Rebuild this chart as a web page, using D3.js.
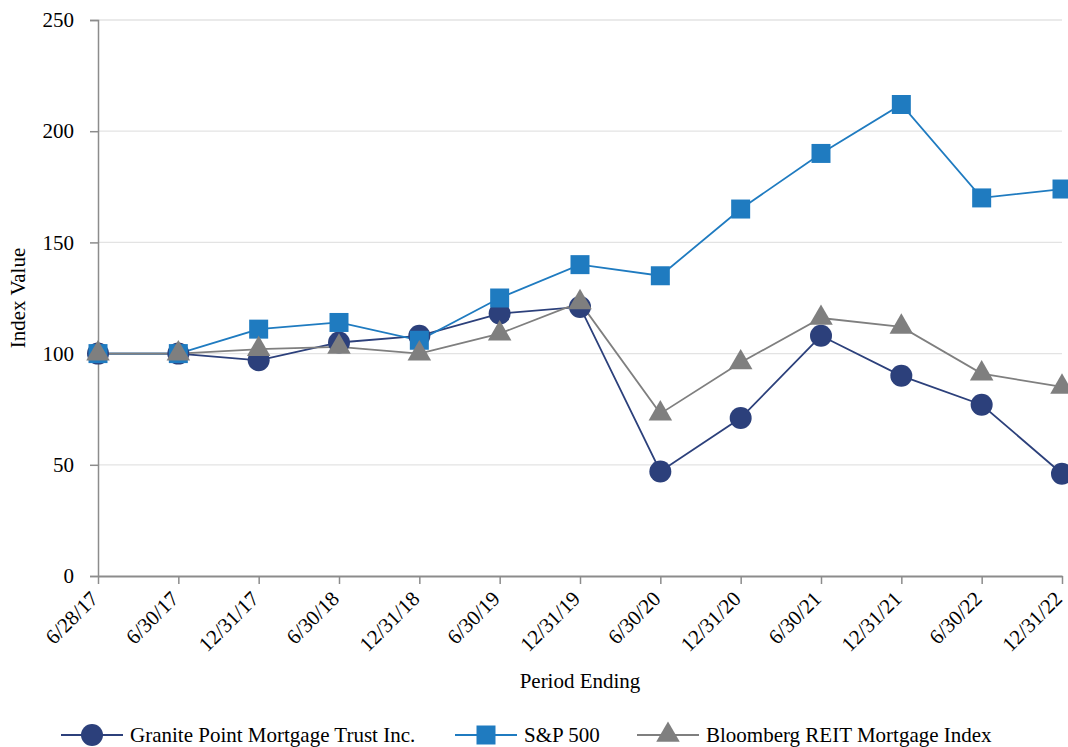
<!DOCTYPE html>
<html>
<head>
<meta charset="utf-8">
<script src="https://cdn.jsdelivr.net/npm/d3@7"></script>
<style>
  body { margin: 0; background: #fff; }
  svg text { font-family: "Liberation Serif", "Times New Roman", serif; fill: #000; }
</style>
</head>
<body>
<svg id="chart" width="1068" height="747"></svg>
<script>
// period labels on the x axis
var periods = ["6/28/17", "6/30/17", "12/31/17", "6/30/18", "12/31/18", "6/30/19", "12/31/19",
               "6/30/20", "12/31/20", "6/30/21", "12/31/21", "6/30/22", "12/31/22"];

// index values
var granite = [100, 100, 97, 105, 108, 118, 121, 47, 71, 108, 90, 77, 46];
var sp500 = [100, 100, 111, 114, 106, 125, 140, 135, 165, 190, 212, 170, 174];
var bloomberg = [100, 100, 102, 103, 100, 109, 123, 73, 96, 116, 112, 91, 85];

var yTicks = [0, 50, 100, 150, 200, 250];

var series = [
  { name: "Granite Point Mortgage Trust Inc.", values: granite, color: "#2c407b", shape: "circle" },
  { name: "S&P 500", values: sp500, color: "#1f7bc0", shape: "square" },
  { name: "Bloomberg REIT Mortgage Index", values: bloomberg, color: "#7f7f7f", shape: "triangle" }
];

var fontSize = "21px";

var svg = d3.select("#chart");
// margins of the plot area
var margin = {top: 20, right: 6, bottom: 171, left: 98};
var width = +svg.attr("width") - margin.left - margin.right;
var height = +svg.attr("height") - margin.top - margin.bottom;
var g = svg.append("g").attr("transform", "translate(" + margin.left + "," + margin.top + ")");

var x = d3.scalePoint().domain(periods).range([0, width]);
var y = d3.scaleLinear().domain([0, 250]).range([height, 0]);

// gridlines
g.append("g")
  .selectAll("line")
  .data(yTicks.filter(function (d) { return d > 0; }))
  .enter().append("line")
  .attr("x1", 0).attr("x2", width)
  .attr("y1", function (d) { return y(d); })
  .attr("y2", function (d) { return y(d); })
  .attr("stroke", "#e3e3e3")
  .attr("stroke-width", 1.3);

// y axis
var yAxis = g.append("g")
  .call(d3.axisLeft(y).tickValues(yTicks).tickSize(8).tickPadding(16));
yAxis.select(".domain").attr("stroke", "#8c8c8c").attr("stroke-width", 1.5);
yAxis.selectAll(".tick line").attr("stroke", "#8c8c8c").attr("stroke-width", 1.5);
yAxis.selectAll(".tick text").style("font-size", fontSize).style("font-family", "Liberation Serif");

// x axis
var xAxis = g.append("g")
  .attr("transform", "translate(0," + height + ")")
  .call(d3.axisBottom(x).tickSize(8).tickSizeOuter(0));
xAxis.select(".domain").attr("stroke", "#8c8c8c").attr("stroke-width", 2);
xAxis.selectAll(".tick line").attr("stroke", "#8c8c8c").attr("stroke-width", 1.5);
xAxis.selectAll(".tick text")
  .style("font-size", fontSize).style("font-family", "Liberation Serif")
  .attr("text-anchor", "end")
  .attr("x", 0).attr("y", 0).attr("dx", 0).attr("dy", 0)
  .attr("transform", "translate(1,24) rotate(-45)");

// axis titles
svg.append("text")
  .attr("transform", "translate(25," + (margin.top + height / 2) + ") rotate(-90)")
  .attr("text-anchor", "middle")
  .style("font-size", fontSize)
  .text("Index Value");

svg.append("text")
  .attr("x", margin.left + width / 2)
  .attr("y", 688)
  .attr("text-anchor", "middle")
  .style("font-size", fontSize)
  .text("Period Ending");

var symbolOf = {
  circle: d3.symbol().type(d3.symbolCircle).size(Math.PI * 11 * 11),
  square: d3.symbol().type(d3.symbolSquare).size(19 * 19),
  triangle: d3.symbol().type(d3.symbolTriangle).size(240)
};

var line = d3.line()
  .x(function (d, i) { return x(periods[i]); })
  .y(function (d) { return y(d); });

series.forEach(function (s) {
  g.append("path")
    .datum(s.values)
    .attr("fill", "none")
    .attr("stroke", s.color)
    .attr("stroke-width", 1.8)
    .attr("d", line);
});

series.forEach(function (s) {
  g.selectAll(".pt-" + s.shape)
    .data(s.values)
    .enter().append("path")
    .attr("class", "pt-" + s.shape)
    .attr("transform", function (d, i) { return "translate(" + x(periods[i]) + "," + y(d) + ")"; })
    .attr("d", symbolOf[s.shape])
    .attr("fill", s.color);
});

// legend
var legendX = [61, 455, 637];
var legend = svg.append("g").attr("transform", "translate(0,735)");
series.forEach(function (s, i) {
  var lg = legend.append("g").attr("transform", "translate(" + legendX[i] + ",0)");
  lg.append("line")
    .attr("x1", 0).attr("x2", 62)
    .attr("y1", 0).attr("y2", 0)
    .attr("stroke", s.color).attr("stroke-width", 2);
  lg.append("path")
    .attr("transform", "translate(31,0)")
    .attr("d", symbolOf[s.shape])
    .attr("fill", s.color);
  lg.append("text")
    .attr("x", 69)
    .attr("y", 7)
    .style("font-size", fontSize)
    .text(s.name);
});
</script>
</body>
</html>
